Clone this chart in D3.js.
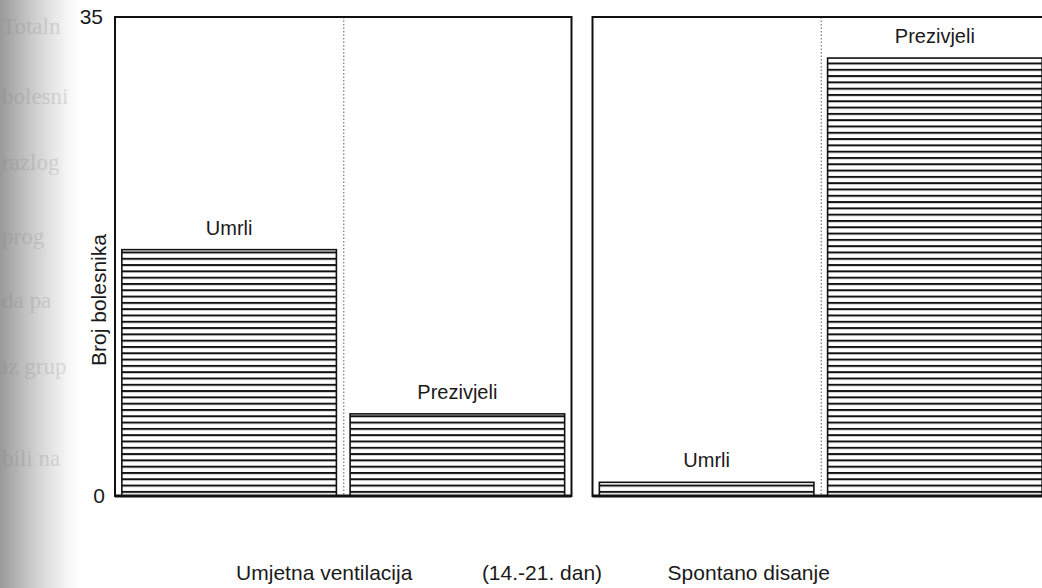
<!DOCTYPE html>
<html>
<head>
<meta charset="utf-8">
<script src="https://cdn.jsdelivr.net/npm/d3@7"></script>
<style>
  html, body { margin: 0; padding: 0; background: #fff; }
  svg { display: block; }
</style>
</head>
<body>
<svg id="chart" width="1042" height="588"></svg>
<script>
// Patients by outcome, for each breathing mode (days 14-21)
const groups = ["Umjetna ventilacija", "Spontano disanje"];
const outcomes = ["Umrli", "Prezivjeli"];
const umrli = [18, 1];
const prezivjeli = [6, 32];
const yTicks = [0, 35];
const yTitle = "Broj bolesnika";
const periodLabel = "(14.-21. dan)";
// Text from the facing page, showing through at the left margin
const marginLines = ["Totaln", "bolesni", "razlog", "prog", "da pa", "iz grup", "bili na"];
const marginBaselines = [34, 104, 170, 244, 308, 374, 466];

const rows = groups.map((g, i) => ({
  group: g,
  values: [
    { outcome: outcomes[0], value: umrli[i] },
    { outcome: outcomes[1], value: prezivjeli[i] }
  ]
}));

const svg = d3.select("#chart");
const font = "'Liberation Sans', Arial, sans-serif";
const ink = "#1a1a1a";

const defs = svg.append("defs");

// grey shading along the left page edge, built from 1px strips
const edgeWidth = 80;
const edgeTone = x => {
  const t = x / edgeWidth;
  const g = 154 + (255 - 154) * (1 - Math.pow(1 - t, 1.3));
  return d3.rgb(g, g, g).toString();
};
svg.append("g").selectAll("rect").data(d3.range(edgeWidth)).join("rect")
  .attr("x", d => d).attr("y", 0).attr("width", 1.05).attr("height", 588)
  .attr("fill", d => edgeTone(d));

svg.append("g")
  .selectAll("text").data(marginLines).join("text")
  .attr("x", 2)
  .attr("y", (d, i) => marginBaselines[i])
  .attr("font-family", "'Liberation Serif', 'DejaVu Serif', serif")
  .attr("font-size", 23)
  .attr("fill", "#7a7a7a")
  .attr("opacity", 0.22)
  .text(d => d);

// scales
const y = d3.scaleLinear().domain([0, 35]).range([496, 17]);
const xGroup = d3.scaleBand().domain(groups).range([115, 1049])
  .paddingInner(0.044).paddingOuter(0);
const xOutcome = d3.scaleBand().domain(outcomes).range([0, xGroup.bandwidth()])
  .paddingInner(0.06).paddingOuter(0.03);

// horizontal hatching, anchored at the baseline
const hatch = defs.append("pattern").attr("id", "hatch")
  .attr("patternUnits", "userSpaceOnUse")
  .attr("x", 0).attr("y", y(0) + 1.2)
  .attr("width", 12).attr("height", 6.3);
hatch.append("rect").attr("width", 12).attr("height", 6.3).attr("fill", "#fff");
hatch.append("rect").attr("x", 0).attr("y", 0).attr("width", 12).attr("height", 2)
  .attr("fill", "#111");

const panel = svg.selectAll("g.panel").data(rows).join("g")
  .attr("class", "panel")
  .attr("transform", d => `translate(${xGroup(d.group)},0)`);

// dotted separator between the two outcomes
panel.append("line")
  .attr("x1", xGroup.bandwidth() / 2 + 0.5).attr("x2", xGroup.bandwidth() / 2 + 0.5)
  .attr("y1", y(35)).attr("y2", y(0))
  .attr("stroke", "#777").attr("stroke-width", 1.2)
  .attr("stroke-dasharray", "1.5,2");

// bars
panel.selectAll("rect.bar").data(d => d.values).join("rect")
  .attr("class", "bar")
  .attr("x", d => xOutcome(d.outcome))
  .attr("y", d => y(d.value))
  .attr("width", xOutcome.bandwidth())
  .attr("height", d => y(0) - y(d.value))
  .attr("fill", "url(#hatch)")
  .attr("stroke", "#111").attr("stroke-width", 1.6);

// outcome labels above each bar
panel.selectAll("text.lbl").data(d => d.values).join("text")
  .attr("class", "lbl")
  .attr("x", d => xOutcome(d.outcome) + xOutcome.bandwidth() / 2)
  .attr("y", d => y(d.value) - 15)
  .attr("text-anchor", "middle")
  .attr("font-family", font).attr("font-size", 20)
  .attr("fill", ink)
  .text(d => d.outcome);

// panel frame with heavier baseline
panel.append("rect")
  .attr("x", 0).attr("y", y(35))
  .attr("width", xGroup.bandwidth()).attr("height", y(0) - y(35))
  .attr("fill", "none").attr("stroke", "#111").attr("stroke-width", 2);
panel.append("line")
  .attr("x1", 0).attr("x2", xGroup.bandwidth())
  .attr("y1", y(0)).attr("y2", y(0))
  .attr("stroke", "#111").attr("stroke-width", 3);

// y axis: end ticks only
const yAxis = d3.axisLeft(y).tickValues(yTicks).tickSize(0).tickPadding(10);
const yg = svg.append("g").attr("transform", `translate(${xGroup(groups[0])},0)`).call(yAxis);
yg.select(".domain").remove();
yg.selectAll("text")
  .attr("font-family", font).attr("font-size", 21).attr("fill", ink);
yg.selectAll(".tick").filter(d => d === 35).select("text").attr("dy", "0.3em").attr("dx", -2);

svg.append("text")
  .attr("transform", `translate(106,300) rotate(-90)`)
  .attr("text-anchor", "middle")
  .attr("font-family", font).attr("font-size", 21)
  .attr("fill", ink)
  .text(yTitle);

// bottom captions
const captions = [
  { text: groups[0], x: xGroup(groups[0]) + xGroup.bandwidth() / 2 - 19 },
  { text: periodLabel, x: (xGroup(groups[0]) + xGroup.bandwidth() + xGroup(groups[1])) / 2 - 40 },
  { text: groups[1], x: xGroup(groups[1]) + xGroup.bandwidth() / 2 - 72 }
];
svg.selectAll("text.cap").data(captions).join("text")
  .attr("class", "cap")
  .attr("x", d => d.x).attr("y", 580)
  .attr("text-anchor", "middle")
  .attr("font-family", font).attr("font-size", 21)
  .attr("fill", ink)
  .text(d => d.text);
</script>
</body>
</html>
